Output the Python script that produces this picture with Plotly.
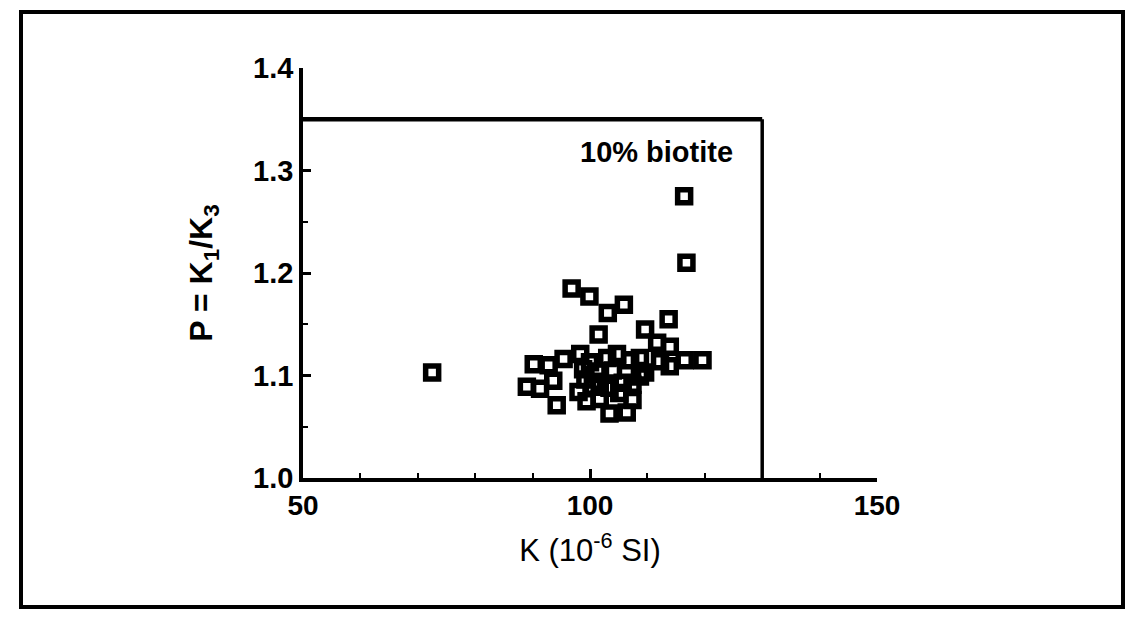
import plotly.graph_objects as go

# Data (K in 10^-6 SI, P = K1/K3)
k_values = [72.5, 96.8, 99.9, 103.1, 105.9, 113.7, 109.6, 101.5, 111.7, 113.9,
            116.5, 119.6, 113.9, 108.7, 90.2, 92.8, 95.4, 98.3, 100.0, 103.0,
            104.7, 107.0, 89.0, 91.3, 93.6, 94.2, 99.2, 99.4, 101.7, 103.4,
            105.7, 108.7, 103.4, 106.4, 98.8, 101.3, 104.0, 105.1, 101.7, 107.4,
            98.0, 100.5, 112.2, 109.6, 107.4, 116.4, 116.8]
p_values = [1.103, 1.185, 1.177, 1.161, 1.169, 1.155, 1.145, 1.140, 1.132, 1.128,
            1.115, 1.115, 1.109, 1.117, 1.111, 1.110, 1.116, 1.121, 1.113, 1.117,
            1.121, 1.115, 1.089, 1.087, 1.095, 1.071, 1.096, 1.075, 1.094, 1.088,
            1.093, 1.099, 1.063, 1.064, 1.106, 1.104, 1.105, 1.083, 1.077, 1.076,
            1.084, 1.089, 1.114, 1.103, 1.091, 1.275, 1.210]

x_ticks = [50, 100, 150]
y_ticks = [1.0, 1.1, 1.2, 1.3, 1.4]
box_k = 130
box_p = 1.35
label_text = "10% biotite"

FONT = "Liberation Sans"

# page offset from default body margin
OFF = 8
FW, FH = 1140 - OFF, 622 - OFF
L, T = 303 - OFF, 68 - OFF
W, H = 574, 410
R, B = FW - L - W, FH - T - H

def px(page_x):
    return (page_x - OFF - L) / W
def py(page_y):
    return (T + H - (page_y - OFF)) / H

fig = go.Figure()
fig.add_trace(go.Scatter(
    x=k_values, y=p_values, mode="markers",
    marker=dict(symbol="square-open", size=13, color="black",
                line=dict(color="black", width=5.5)),
    showlegend=False, hoverinfo="x+y"))

# inner box drawn in data coordinates
fig.add_shape(type="line", x0=50, x1=box_k, y0=box_p, y1=box_p,
              xref="x", yref="y", line=dict(color="black", width=4.5))
fig.add_shape(type="line", x0=box_k, x1=box_k, y0=1.0, y1=box_p,
              xref="x", yref="y", line=dict(color="black", width=3.5))

# outer frame
fig.add_shape(type="rect", xref="paper", yref="paper",
              x0=px(21), x1=px(1123), y0=py(607), y1=py(12),
              line=dict(color="black", width=4))

fig.add_annotation(x=125.2, y=1.336, xref="x", yref="y",
                   text="<b>" + label_text + "</b>", showarrow=False,
                   xanchor="right", yanchor="top",
                   font=dict(family=FONT, size=29, color="black"))

fig.update_xaxes(range=[50, 150], tickvals=x_ticks, ticktext=[str(v) for v in x_ticks],
                 showline=True, linecolor="black", linewidth=3.5,
                 ticks="inside", ticklen=9, tickwidth=2.5, tickcolor="black",
                 minor=dict(ticks="inside", dtick=10, tick0=50, ticklen=5,
                            tickwidth=2, tickcolor="black"),
                 showgrid=False, zeroline=False,
                 tickfont=dict(family=FONT, size=28, color="black", weight="bold"),
                 title=dict(text="K (10<sup>-6</sup> SI)", standoff=20,
                            font=dict(family=FONT, size=31, color="black")))
fig.update_yaxes(range=[1.0, 1.4], tickvals=y_ticks, ticktext=["%.1f" % v for v in y_ticks],
                 showline=True, linecolor="black", linewidth=3.5,
                 ticks="inside", ticklen=8, tickwidth=2.5, tickcolor="black",
                 minor=dict(ticks="inside", dtick=0.05, tick0=1.0, ticklen=5,
                            tickwidth=2, tickcolor="black"),
                 showgrid=False, zeroline=False,
                 tickfont=dict(family=FONT, size=29, color="black", weight="bold"),
                 title=dict(text="P = K<sub>1</sub>/K<sub>3</sub>", standoff=32,
                            font=dict(family=FONT, size=32, color="black", weight="bold")))

fig.update_layout(width=FW, height=FH, autosize=False,
                  margin=dict(l=L, r=R, t=T, b=B, pad=0),
                  paper_bgcolor="white", plot_bgcolor="white")
fig.update_xaxes(automargin=False)
fig.update_yaxes(automargin=False)

fig.write_html("out.html")
